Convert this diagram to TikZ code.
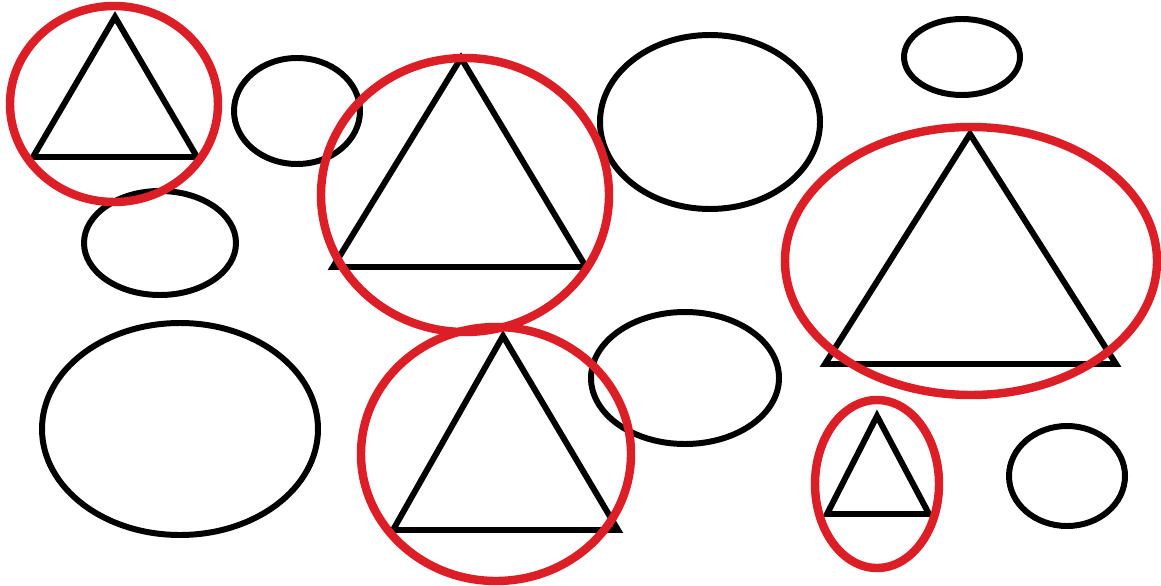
\documentclass[tikz,border=0pt]{standalone}
\usepackage{xcolor}
\definecolor{MarkRed}{HTML}{DC1E26}
\usepackage{tikz}

\begin{document}
\begin{tikzpicture}[
  x=0.01cm, y=-0.01cm,
  ring/.style={draw=black, line width=1.7pt},
  tri/.style={draw=black, line width=1.7pt, line join=miter},
  redring/.style={draw=MarkRed, line width=2.4pt}
]
\useasboundingbox[fill=white] (0,0) rectangle (1161,585);

% plain ellipses
\draw[ring] (297,111) ellipse [x radius=63, y radius=53];
\draw[ring] (160,243) ellipse [x radius=76, y radius=52];
\draw[ring] (710,122) ellipse [x radius=110, y radius=87];
\draw[ring] (962,57) ellipse [x radius=58, y radius=38];
\draw[ring] (180,429) ellipse [x radius=138, y radius=106];
\draw[ring] (685,378) ellipse [x radius=94, y radius=66];
\draw[ring] (1067,476) ellipse [x radius=58, y radius=50];

% triangles
\draw[tri] (115,17) -- (197,157) -- (33,157) -- cycle;
\draw[tri] (461,58) -- (586,267) -- (333,267) -- cycle;
\draw[tri] (503,336) -- (618,530) -- (393,530) -- cycle;
\draw[tri] (970,134) -- (1116,364) -- (825,364) -- cycle;
\draw[tri] (877,416) -- (929,514) -- (827,514) -- cycle;

% red rings
\draw[redring] (114,104) ellipse [x radius=104, y radius=98];
\draw[redring] (465,195) ellipse [x radius=144, y radius=137];
\draw[redring] (496,454) ellipse [x radius=135, y radius=127];
\draw[redring] (971,261) ellipse [x radius=186, y radius=134];
\draw[redring] (877,484) ellipse [x radius=62, y radius=84];
\end{tikzpicture}
\end{document}
